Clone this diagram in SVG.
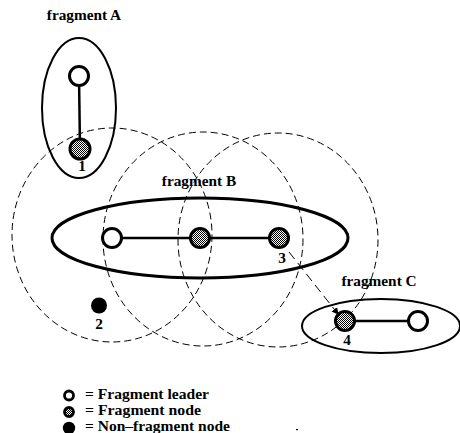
<svg xmlns="http://www.w3.org/2000/svg" width="460" height="433" viewBox="0 0 460 433">
<defs>
<pattern id="chk" width="2" height="2" patternUnits="userSpaceOnUse">
<rect width="2" height="2" fill="#fff"/>
<rect width="1" height="1" fill="#000"/>
<rect x="1" y="1" width="1" height="1" fill="#000"/>
</pattern>
<marker id="arr" markerWidth="8" markerHeight="8" refX="6" refY="4" orient="auto" markerUnits="userSpaceOnUse">
<path d="M0,0.5 L7,4 L0,7.5 z" fill="#000"/>
</marker>
<style>
.t{font-family:"Liberation Serif","Times New Roman",serif;font-weight:bold;font-size:15.3px;fill:#000}
.lg{font-family:"Liberation Serif","Times New Roman",serif;font-weight:bold;font-size:15.5px;fill:#000}
.frag{fill:none;stroke:#000;stroke-width:2}
.fragB{fill:none;stroke:#000;stroke-width:3}
.range{fill:none;stroke:#000;stroke-width:1;stroke-dasharray:7 4}
.edge{stroke:#000;stroke-width:2.5;fill:none}
.leader{fill:#fff;stroke:#000;stroke-width:3}
.fnode{fill:url(#chk);stroke:#000;stroke-width:3}
.nf{fill:#000}
.link{stroke:#000;stroke-width:1;stroke-dasharray:9 5;fill:none}
</style>
</defs>
<rect width="460" height="433" fill="#fff"/>

<g id="ranges">
<ellipse class="range" cx="112" cy="235" rx="100" ry="107"/>
<ellipse class="range" cx="203" cy="239" rx="100" ry="107"/>
<ellipse class="range" cx="278" cy="240" rx="100" ry="107"/>
</g>

<g id="fragmentA">
<ellipse class="frag" cx="79" cy="108" rx="37" ry="70"/>
<text class="t" x="84" y="20" text-anchor="middle">fragment A</text>
</g>
<g id="fragmentB">
<ellipse class="fragB" cx="200" cy="238" rx="148" ry="40"/>
<text class="t" x="199" y="186" text-anchor="middle">fragment B</text>
</g>
<g id="fragmentC">
<ellipse class="frag" cx="381" cy="326" rx="79" ry="27"/>
<text class="t" x="379" y="286" text-anchor="middle">fragment C</text>
</g>

<g id="connectors">
<line class="edge" x1="79" y1="76" x2="80" y2="149"/>
<line class="edge" x1="112" y1="238" x2="279" y2="238"/>
<line class="edge" x1="345" y1="321" x2="418" y2="321"/>
<line class="link" x1="289" y1="252" x2="338" y2="314" marker-end="url(#arr)"/>
</g>

<g id="leaderA"><circle class="leader" cx="79" cy="76" r="9.5"/></g>
<g id="node1"><circle class="fnode" cx="80" cy="149" r="10"/><text class="t" x="82" y="171" text-anchor="middle">1</text></g>
<g id="leaderB"><circle class="leader" cx="112" cy="238" r="9.5"/></g>
<g id="nodeB"><circle class="fnode" cx="200" cy="238" r="9.5"/></g>
<g id="node3"><circle class="fnode" cx="279" cy="238" r="9.5"/><text class="t" x="282" y="263" text-anchor="middle">3</text></g>
<g id="node2"><circle class="nf" cx="99" cy="305.5" r="8"/><text class="t" x="99" y="329" text-anchor="middle">2</text></g>
<g id="node4"><circle class="fnode" cx="345" cy="321" r="9.5"/><text class="t" x="347" y="345" text-anchor="middle">4</text></g>
<g id="leaderC"><circle class="leader" cx="418" cy="321" r="9.5"/></g>

<g id="legend">
<circle class="leader" cx="69" cy="395.5" r="4.5" style="stroke-width:2.8"/>
<circle class="fnode" cx="69" cy="412" r="4.5" style="stroke-width:2.8"/>
<circle class="nf" cx="69" cy="428" r="6.2"/>
<text class="lg" x="85" y="399" textLength="124" lengthAdjust="spacingAndGlyphs">= Fragment leader</text>
<text class="lg" x="85" y="415" textLength="116" lengthAdjust="spacingAndGlyphs">= Fragment node</text>
<text class="lg" x="85" y="431" textLength="145" lengthAdjust="spacingAndGlyphs">= Non–fragment node</text>
<rect x="296" y="429" width="2" height="1.2" fill="#000"/>
</g>
</svg>
